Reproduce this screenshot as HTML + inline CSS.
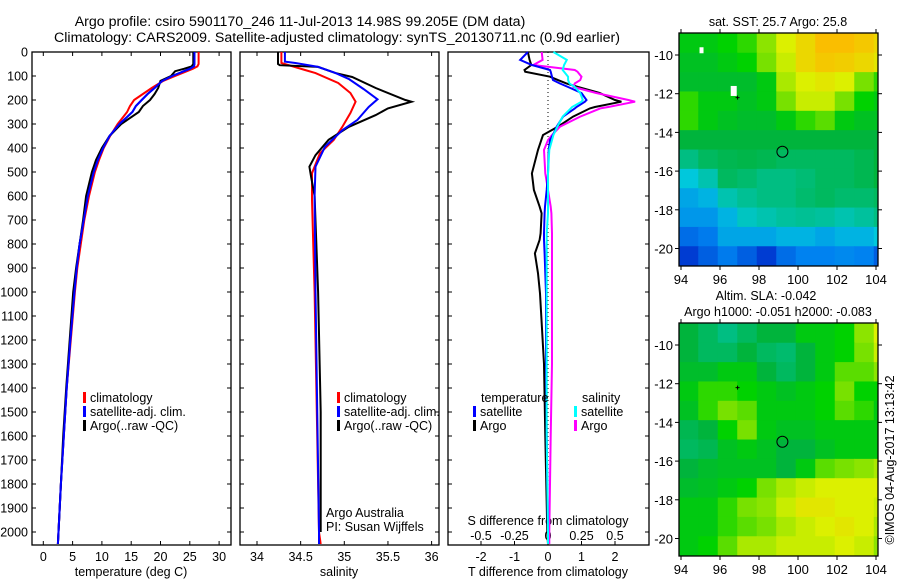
<!DOCTYPE html>
<html><head><meta charset="utf-8"><style>
body{margin:0;background:#fff;}
svg{display:block;font-family:"Liberation Sans",sans-serif;}
</style></head><body>
<svg id="chart" width="900" height="580" viewBox="0 0 900 580" xmlns="http://www.w3.org/2000/svg">
<text x="300" y="26" font-size="14.2" text-anchor="middle">Argo profile: csiro 5901170_246 11-Jul-2013 14.98S 99.205E (DM data)</text>
<text x="337" y="42" font-size="14.2" text-anchor="middle">Climatology: CARS2009. Satellite-adjusted climatology: synTS_20130711.nc (0.9d earlier)</text>
<g id="g"></g>
</svg>
<script>
// ---- data ----
const depthT = [0,50,60,70,80,100,120,150,175,200,225,250,300,350,400,450,500,600,700,800,900,1000,1200,1400,1600,1800,2000,2050];
const tempClim = [26.5,26.5,26.3,25.5,24.5,22.5,20.5,18.5,17,15.5,14.8,14.3,12.7,11.4,10.3,9.5,8.8,7.8,7.0,6.4,5.8,5.4,4.7,4.0,3.5,3.0,2.6,2.5];
const tempSat = [25.8,25.8,25.7,25,24,22,20.3,19,17.8,16.8,15.8,15.2,13,11.3,10.2,9.3,8.6,7.6,6.9,6.2,5.7,5.3,4.6,4.0,3.5,3.0,2.6,2.5];
const tempArgo = [25.6,25.6,25.3,24,22.5,21.8,20,19.6,19,18.2,17,16.3,13.3,11.3,10.0,9.0,8.3,7.3,6.8,6.2,5.6,5.1,4.5,3.9,3.4,3.0,2.6,2.5];
const depthSC = [0,40,46,75,88,129,171,207,254,310,366,422,505,617,1000,2000,2050];
const salClim = [34.28,34.28,34.28,34.55,34.67,34.93,35.07,35.13,35.07,34.98,34.88,34.72,34.63,34.63,34.66,34.71,34.73];
const depthSS = [0,40,46,62,88,112,154,197,229,283,325,394,478,600,1000,2000,2050];
const salSat = [34.32,34.32,34.44,34.7,34.9,35.05,35.22,35.38,35.28,35.15,34.98,34.78,34.67,34.66,34.67,34.71,34.71];
const depthSA = [0,50,55,62,88,104,150,200,207,235,263,312,366,430,478,520,600,1000,1500,2000];
const salArgo = [34.24,34.24,34.26,34.7,34.9,35.09,35.36,35.7,35.77,35.5,35.36,35.05,34.82,34.67,34.6,34.62,34.66,34.7,34.73,34.73];
const depthD = [0,33,54,75,82,103,117,131,146,171,200,207,229,235,269,311,346,367,408,506,575,644,672,756,783,839,922,1006,1300,1600,2000,2050];
const dTsat = [-0.6,-0.83,-0.48,0.06,0.08,0.12,0.15,0.35,0.6,1.0,1.15,1.1,0.85,0.8,0.45,0.26,0.15,0.06,0.02,0.0,-0.04,-0.09,-0.1,-0.12,-0.12,-0.1,-0.08,-0.06,-0.06,-0.04,0.0,0.0];
const dTargo = [-0.6,-0.55,-0.5,-0.7,-0.68,0.06,0.3,0.55,0.9,1.54,2.0,2.19,1.4,1.25,0.75,0.3,-0.15,-0.2,-0.3,-0.48,-0.42,-0.25,-0.19,-0.22,-0.25,-0.39,-0.3,-0.24,-0.12,-0.08,-0.02,0.0];
const dSargo = [-0.047,-0.04,-0.11,0.2,0.22,0.25,0.24,0.2,0.19,0.36,0.6,0.65,0.45,0.39,0.24,0.09,0.03,0.0,-0.03,-0.02,0.0,0.02,0.025,0.03,0.03,0.03,0.03,0.03,0.03,0.02,0.01,0.01];
const dSsat = [0.04,0.14,0.12,0.11,0.12,0.15,0.15,0.16,0.2,0.24,0.26,0.25,0.18,0.17,0.11,0.07,0.04,0.03,0.01,0.0,0.0,0.0,0.0,-0.01,-0.01,-0.01,-0.01,-0.01,-0.01,-0.01,0.0,0.0];
const depthTicks = [0,100,200,300,400,500,600,700,800,900,1000,1100,1200,1300,1400,1500,1600,1700,1800,1900,2000];
const tempTicks = [0,5,10,15,20,25,30];
const salTicks = [34,34.5,35,35.5,36];
const dTTicks = [-2,-1,0,1,2];
const dSTicks = [-0.5,-0.25,0,0.25,0.5];
const dSLabels = ["-0.5","-0.25","0","0.25","0.5"];
const lonTicks = [94,96,98,100,102,104];
const latTicks = [-10,-12,-14,-16,-18,-20];
const sstGrid = [
[0.6,0.6,0.62,0.65,0.72,0.8,0.85,0.9,0.9,0.88,0.85],
[0.58,0.58,0.6,0.62,0.7,0.78,0.85,0.88,0.87,0.85,0.82],
[0.57,0.57,0.57,0.57,0.6,0.75,0.8,0.82,0.8,0.7,0.65],
[0.65,0.6,0.6,0.58,0.6,0.7,0.78,0.78,0.7,0.62,0.6],
[0.65,0.6,0.58,0.57,0.57,0.6,0.65,0.68,0.6,0.58,0.58],
[0.55,0.55,0.55,0.55,0.55,0.55,0.55,0.55,0.55,0.55,0.55],
[0.45,0.5,0.52,0.53,0.52,0.5,0.5,0.5,0.5,0.52,0.55],
[0.35,0.4,0.5,0.48,0.45,0.45,0.47,0.5,0.5,0.52,0.55],
[0.3,0.32,0.4,0.43,0.45,0.45,0.48,0.5,0.48,0.48,0.5],
[0.28,0.28,0.32,0.38,0.4,0.42,0.43,0.42,0.4,0.42,0.45],
[0.22,0.24,0.3,0.3,0.3,0.32,0.32,0.3,0.32,0.32,0.35],
[0.15,0.2,0.24,0.2,0.15,0.22,0.25,0.25,0.26,0.25,0.2]];
const slaGrid = [
[0.55,0.5,0.45,0.5,0.55,0.55,0.6,0.6,0.62,0.72,0.8],
[0.55,0.5,0.5,0.55,0.5,0.48,0.55,0.6,0.62,0.7,0.78],
[0.57,0.57,0.6,0.6,0.55,0.5,0.55,0.6,0.68,0.68,0.72],
[0.6,0.65,0.65,0.62,0.6,0.58,0.6,0.62,0.7,0.62,0.62],
[0.58,0.65,0.7,0.68,0.6,0.6,0.6,0.62,0.68,0.65,0.6],
[0.52,0.55,0.62,0.7,0.6,0.58,0.58,0.6,0.6,0.6,0.6],
[0.5,0.52,0.58,0.6,0.58,0.55,0.55,0.58,0.6,0.6,0.6],
[0.55,0.57,0.58,0.58,0.58,0.55,0.6,0.68,0.7,0.72,0.75],
[0.57,0.58,0.6,0.62,0.7,0.75,0.78,0.8,0.8,0.8,0.8],
[0.6,0.6,0.65,0.7,0.72,0.78,0.82,0.82,0.8,0.8,0.78],
[0.6,0.6,0.65,0.68,0.7,0.75,0.78,0.8,0.82,0.8,0.75],
[0.6,0.62,0.68,0.75,0.75,0.78,0.78,0.78,0.8,0.78,0.72]];

const NS="http://www.w3.org/2000/svg";
const G=document.getElementById('g');
function mk(tag,at,parent){const e=document.createElementNS(NS,tag);for(const k in at)e.setAttribute(k,at[k]);(parent||G).appendChild(e);return e;}
function txt(s,x,y,anchor,size,parent){const e=mk('text',{x:x,y:y,'text-anchor':anchor||'middle','font-size':size||12.5},parent);e.textContent=s;return e;}

const y0=52,y1=545;
const yD=d=>52+d*0.24;
const panels=[{x0:32,x1:231},{x0:240,x1:439},{x0:448,x1:649}];
const xT=t=>43.3+t*5.86;
const xS=s=>257+(s-34)*87.3;
const xdT=t=>548+t*33.5;
const xdS=s=>548+s*134;

function frame(p,name,leftLabels){
  const r=mk('rect',{x:p.x0,y:y0,width:p.x1-p.x0,height:y1-y0,fill:'none',stroke:'#000','stroke-width':1.3});
  
  
  depthTicks.forEach(d=>{
    const y=yD(d);
    mk('line',{x1:p.x0,x2:p.x0+4,y1:y,y2:y,stroke:'#000'});
    mk('line',{x1:p.x1-4,x2:p.x1,y1:y,y2:y,stroke:'#000'});
    if(leftLabels){const t=txt(String(d),p.x0-4,y+4.5,'end',12.5);
      
      }
  });
}
function xticks(vals,fx,labels,ly,top){
  vals.forEach((v,i)=>{const x=fx(v);
    mk('line',{x1:x,x2:x,y1:y1,y2:y1-4,stroke:'#000'});
    if(top) mk('line',{x1:x,x2:x,y1:y0,y2:y0+4,stroke:'#000'});
    const t=txt(labels[i],x,ly,'middle',12.5);
    
    
  });
}
function line(depths,vals,fx,color,name){
  const pts=depths.map((d,i)=>fx(vals[i]).toFixed(1)+','+yD(d).toFixed(1)).join(' ');
  const l=mk('polyline',{points:pts,fill:'none',stroke:color,'stroke-width':2,'stroke-linejoin':'miter'});
  
  
}
function legend(x,y,color,label){
  mk('rect',{x:x,y:y-10,width:3,height:11,fill:color});
  const t=txt(label,x+7,y,'start',12.5);
  
  
}

// panel 1
frame(panels[0],'temperature-panel',true);
xticks(tempTicks,xT,tempTicks.map(String),561,true);
txt('temperature (deg C)',131,576);
line(depthT,tempClim,xT,'#f00','temp-climatology-line');
line(depthT,tempSat,xT,'#00f','temp-satellite-line');
line(depthT,tempArgo,xT,'#000','temp-argo-line');
line(depthT,tempSat,xT,'#00f','temp-satellite-line-top');
legend(83,402,'#f00','climatology');
legend(83,416,'#00f','satellite-adj. clim.');
legend(83,430,'#000','Argo(..raw -QC)');

// panel 2
frame(panels[1],'salinity-panel',false);
xticks(salTicks,xS,salTicks.map(String),561,true);
txt('salinity',339,576);
line(depthSC,salClim,xS,'#f00','sal-climatology-line');
line(depthSA,salArgo,xS,'#000','sal-argo-line');
line(depthSS,salSat,xS,'#00f','sal-satellite-line');
legend(337,402,'#f00','climatology');
legend(337,416,'#00f','satellite-adj. clim.');
legend(337,430,'#000','Argo(..raw -QC)');
txt('Argo Australia',326,517,'start',12.5);
txt('PI: Susan Wijffels',326,531,'start',12.5);

// panel 3
frame(panels[2],'difference-panel',false);
mk('line',{x1:548,x2:548,y1:y0,y2:y1,stroke:'#000','stroke-dasharray':'1,3'});
xticks(dTTicks,xdT,dTTicks.map(String),561,false);
dSTicks.forEach((v,i)=>{const t=txt(dSLabels[i],xdS(v),540,'middle',12.5);
  
  });
txt('S difference from climatology',548,525);
txt('T difference from climatology',548,576);
line(depthD,dTargo,xdT,'#000','tdiff-argo-line');
line(depthD,dSargo,xdS,'#f0f','sdiff-argo-line');
line(depthD,dTsat,xdT,'#00f','tdiff-satellite-line');
line(depthD,dSsat,xdS,'#0ff','sdiff-satellite-line');
txt('temperature',481,402,'start',12.5);
legend(473,416,'#00f','satellite');
legend(473,430,'#000','Argo');
txt('salinity',582,402,'start',12.5);
legend(574,416,'#0ff','satellite');
legend(574,430,'#f0f','Argo');

// maps
const stops=[[0,[0,20,140]],[0.15,[0,60,210]],[0.25,[0,130,240]],[0.35,[0,200,220]],[0.45,[0,190,130]],[0.55,[0,180,60]],[0.62,[0,210,0]],[0.7,[120,225,0]],[0.8,[220,240,0]],[0.9,[250,190,0]],[1,[250,140,0]]];
function cmap(v){for(let i=1;i<stops.length;i++){if(v<=stops[i][0]){const a=stops[i-1],b=stops[i],f=(v-a[0])/(b[0]-a[0]);
  return 'rgb('+a[1].map((c,k)=>Math.round(c+(b[1][k]-c)*f)).join(',')+')';}}return 'rgb(250,140,0)';}
function map(grid,top,name,id){
  const m={x0:679,x1:878,y0:top,y1:top+233};
  const lx=lon=>681+(lon-94)*19.5;
  const ly=lat=>top+22+(-10-lat)*19.35;
  const cp=mk('clipPath',{id:id});mk('rect',{x:m.x0,y:m.y0,width:m.x1-m.x0,height:m.y1-m.y0},cp);
  const g=mk('g',{'clip-path':'url(#'+id+')'});
  
  
  grid.forEach((row,i)=>row.forEach((v,j)=>{
    const c=mk('rect',{x:lx(93.9+j)-0.3,y:ly(-8.9-i)-0.3,width:19.5+0.6,height:19.35+0.6,fill:cmap(v)},g);
    
    
  }));
  mk('rect',{x:m.x0,y:m.y0,width:m.x1-m.x0,height:m.y1-m.y0,fill:'none',stroke:'#000','stroke-width':1.3});
  lonTicks.forEach(l=>{const x=lx(l);mk('line',{x1:x,x2:x,y1:m.y1,y2:m.y1+4,stroke:'#000'});mk('line',{x1:x,x2:x,y1:m.y0,y2:m.y0-4,stroke:'#000'});
    txt(String(l),x,m.y1+18,'middle',13);});
  latTicks.forEach(l=>{const y=ly(l);mk('line',{x1:m.x0-4,x2:m.x0,y1:y,y2:y,stroke:'#000'});mk('line',{x1:m.x1,x2:m.x1+4,y1:y,y2:y,stroke:'#000'});
    txt(String(l),m.x0-6,y+5,'end',13);});
  const c=mk('circle',{cx:lx(99.2),cy:ly(-15),r:5.5,fill:'none',stroke:'#000','stroke-width':1});
  
  
  mk('path',{d:'M'+(lx(96.9)-2)+' '+ly(-12.2)+'h4M'+lx(96.9)+' '+(ly(-12.2)-2)+'v4',stroke:'#000','stroke-width':1});
  return {lx,ly};
}
const a=map(sstGrid,33,'sst-map','c1');
mk('rect',{x:a.lx(94.95),y:a.ly(-9.6),width:4,height:6,fill:'#fff'});
mk('rect',{x:a.lx(96.55),y:a.ly(-11.6),width:6,height:10,fill:'#fff'});
txt('sat. SST: 25.7 Argo: 25.8',778,26,'middle',12.5);
map(slaGrid,323,'sla-map','c2');
txt('Altim. SLA: -0.042',766,300,'middle',12.5);
txt('Argo h1000: -0.051 h2000: -0.083',778,316,'middle',12.5);
const st=txt('©IMOS 04-Aug-2017 13:13:42',0,0,'middle',12.5);
st.setAttribute('transform','translate(894,460) rotate(-90)');


</script>
</body></html>
